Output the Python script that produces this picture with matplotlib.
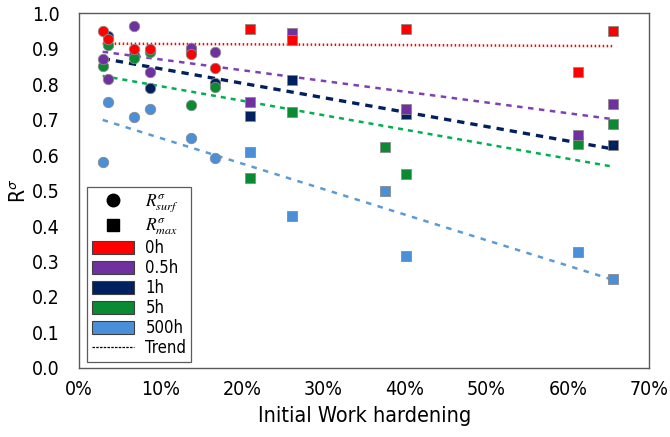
import matplotlib
matplotlib.use('Agg')
import matplotlib.pyplot as plt
from matplotlib.lines import Line2D
from matplotlib.patches import Patch
from matplotlib.ticker import PercentFormatter

plt.rcParams['font.family'] = ['DejaVu Sans']
plt.rcParams['font.stretch'] = 'condensed'
plt.rcParams['mathtext.fontset'] = 'stix'

# initial work hardening (%) of the specimens
x_surf = [2.9, 3.5, 6.7, 8.7, 13.7, 16.7]
x_max = [21.0, 26.2, 37.5, 40.1, 61.2, 65.6]

series = ['0h', '0.5h', '1h', '5h', '500h']
colors = ['#FF0000', '#7030A0', '#002060', '#0A8A32', '#4A90D9']
line_colors = ['#FF0000', '#7F3FB5', '#002060', '#00B050', '#5B9BD5']

# R_surf values (circles), None = no point
r_surf = {
    '0h':   [0.950, 0.926, 0.900, 0.900, 0.884, 0.846],
    '0.5h': [0.870, 0.813, 0.965, 0.835, 0.903, 0.891],
    '1h':   [None, 0.936, 0.882, 0.788, 0.893, 0.804],
    '5h':   [0.852, 0.910, 0.874, 0.889, 0.741, 0.792],
    '500h': [0.581, 0.749, 0.708, 0.731, 0.647, 0.591],
}
# R_max values (squares)
r_max = {
    '0h':   [0.954, 0.924, None, 0.956, 0.835, 0.950],
    '0.5h': [0.750, 0.945, None, 0.731, 0.656, 0.744],
    '1h':   [0.710, 0.811, None, 0.715, 0.640, 0.627],
    '5h':   [0.536, 0.720, 0.623, 0.546, 0.631, 0.687],
    '500h': [0.609, 0.428, 0.500, 0.315, 0.326, 0.251],
}
# linear trend, value at first and last hardening level
trend_x = [2.9, 65.6]
trend = {
    '0h':   [0.914, 0.907],
    '0.5h': [0.891, 0.701],
    '1h':   [0.872, 0.617],
    '5h':   [0.823, 0.567],
    '500h': [0.699, 0.248],
}
dashes = {
    '0h':   (0.6, 1.0),
    '0.5h': (2.2, 2.2),
    '1h':   (2.2, 1.8),
    '5h':   (2.0, 2.0),
    '500h': (2.2, 2.6),
}
widths = {'0h': 1.8, '0.5h': 1.8, '1h': 2.4, '5h': 1.8, '500h': 1.8}

fig = plt.figure(figsize=(6.7, 4.37), dpi=100)
ax = fig.add_axes([0.118, 0.158, 0.851, 0.812])

draw_order = ['500h', '1h', '5h', '0.5h', '0h']
for name in draw_order:
    lc = line_colors[series.index(name)]
    ax.plot(trend_x, trend[name], color=lc, lw=widths[name],
            dashes=dashes[name], zorder=2)
for name in draw_order:
    c = colors[series.index(name)]
    xs = [x for x, v in zip(x_surf, r_surf[name]) if v is not None]
    ys = [v for v in r_surf[name] if v is not None]
    ax.plot(xs, ys, 'o', ms=7.5, color=c, mec='#8a8a8a', mew=0.6, zorder=3)
    xs = [x for x, v in zip(x_max, r_max[name]) if v is not None]
    ys = [v for v in r_max[name] if v is not None]
    ax.plot(xs, ys, 's', ms=6.5, color=c, mec='#8a8a8a', mew=0.6, zorder=3)

ax.set_xlim(0, 70)
ax.set_ylim(0, 1.0)
ax.set_xticks(range(0, 71, 10))
ax.set_yticks([i / 10 for i in range(11)])
ax.xaxis.set_major_formatter(PercentFormatter(decimals=0))
ax.yaxis.set_major_formatter(lambda v, p: f'{v:.1f}')
ax.tick_params(length=0, labelsize=14, pad=9)
ax.tick_params(axis='y', pad=14)
for s in ax.spines.values():
    s.set_color('#595959')
    s.set_linewidth(1.0)

ax.set_xlabel('Initial Work hardening', fontsize=15.5, labelpad=5)
ax.set_ylabel('R$^{\\mathsf{\\sigma}}$', fontsize=15, labelpad=2)

handles = [
    Line2D([], [], marker='o', ls='none', color='black', ms=9),
    Line2D([], [], marker='s', ls='none', color='black', ms=8),
]
for c in colors:
    handles.append(Patch(facecolor=c, edgecolor='#404040', lw=0.8))
handles.append(Line2D([], [], color='black', lw=0.9, dashes=(2, 1)))
labels = [r'$R^{\sigma}_{surf}$', r'$R^{\sigma}_{max}$'] + series + ['Trend']
leg = ax.legend(handles, labels, loc='lower left', bbox_to_anchor=(0.014, 0.016),
                borderaxespad=0, fontsize=12, frameon=True, fancybox=False,
                handlelength=2.5, handleheight=0.75, labelspacing=0.12,
                handletextpad=0.7, borderpad=0.3)
for t in leg.get_texts()[:2]:
    t.set_fontsize(12.5)
leg.get_frame().set_edgecolor('#333333')
leg.get_frame().set_linewidth(0.9)

plt.savefig('out.png')
plt.close()
